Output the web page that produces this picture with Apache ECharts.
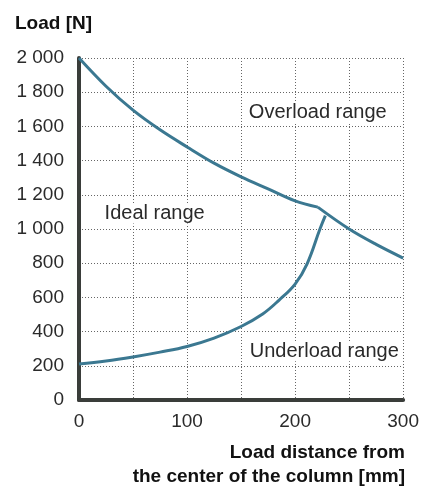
<!DOCTYPE html>
<html>
<head>
<meta charset="utf-8">
<script src="https://cdn.jsdelivr.net/npm/echarts@6/dist/echarts.min.js"></script>
<style>
html,body{margin:0;padding:0;background:#fff;}
#chart{width:422px;height:489px;}
</style>
</head>
<body>
<div id="chart"></div>
<script>
// Upper limit curve (before kink), mm -> N
const upperA = [[0,2000],[25,1835],[50,1695],[75,1580],[100,1480],[125,1385],[150,1305],[175,1235],[200,1165],[221,1128]];
// Upper limit curve (after kink)
const upperB = [[221,1128],[250,1000],[275,910],[300,830]];
// Lower limit curve
const lower = [[0,210],[25,228],[50,252],[75,280],[100,313],[125,362],[150,430],[170,503],[185,583],[200,678],[211,795],[223,1000],[228,1078]];
// Region annotations [mm, N, text]
const regions = [[221,1683,'Overload range'],[70,1090,'Ideal range'],[227,285,'Underload range']];
const xTicks = [0,100,200,300];
const yTickStep = 200;

const FONT = '"Liberation Sans", Arial, sans-serif';
const lineColor = '#3b7891';
const lineStyle = {color: lineColor, width: 3};

const chart = echarts.init(document.getElementById('chart'), null, {renderer:'canvas'});
function fmtThousands(v){
  const s = String(v);
  return s.length > 3 ? s.slice(0, s.length-3) + ' ' + s.slice(-3) : s;
}
const option = {
  animation: false,
  backgroundColor: '#fff',
  grid: {left: 79, right: 16, top: 58, bottom: 89, containLabel: false},
  title: {
    text: 'Load [N]', left: 10, top: 9,
    textStyle: {fontFamily: FONT, fontSize: 19, fontWeight: 'bold', color: '#111'}
  },
  graphic: [
    {type:'text', right: 17, top: 443, style:{text:'Load distance from', font:'bold 19px ' + FONT, fill:'#111', textAlign:'right'}},
    {type:'text', right: 17, top: 467, style:{text:'the center of the column [mm]', font:'bold 19px ' + FONT, fill:'#111', textAlign:'right'}}
  ],
  xAxis: {
    type: 'value', min: 0, max: 300, interval: 50,
    axisLine: {show: true, onZero: false, lineStyle: {color: '#3a3d3a', width: 4}},
    axisTick: {show: false},
    axisLabel: {
      margin: 12, fontFamily: FONT, fontSize: 19, color: '#2a2a2a',
      formatter: v => xTicks.indexOf(v) >= 0 ? String(v) : ''
    },
    splitLine: {show: true, lineStyle: {color: '#666', width: 1, type: [1, 2]}}
  },
  yAxis: {
    type: 'value', min: 0, max: 2000, interval: yTickStep,
    axisLine: {show: true, onZero: false, lineStyle: {color: '#3a3d3a', width: 4}},
    axisTick: {show: false},
    axisLabel: {margin: 15, fontFamily: FONT, fontSize: 19, color: '#2a2a2a', formatter: fmtThousands},
    splitLine: {show: true, lineStyle: {color: '#666', width: 1, type: [1, 2]}}
  },
  series: [
    {type: 'line', data: upperA, smooth: 0.35, symbol: 'none', lineStyle, z: 3},
    {type: 'line', data: upperB, smooth: 0.35, symbol: 'none', lineStyle, z: 3},
    {type: 'line', data: lower, smooth: 0.4, symbol: 'none', lineStyle, z: 3,
     markPoint: {
       symbol: 'rect', symbolSize: 0, silent: true,
       data: regions.map(r => ({coord: [r[0], r[1]], value: r[2]})),
       label: {
         show: true, position: 'inside', formatter: p => p.value,
         fontFamily: FONT, fontSize: 20, color: '#2a2a2a',
         backgroundColor: '#fff', padding: [0, 1]
       }
     }}
  ]
};
chart.setOption(option);
</script>
</body>
</html>
